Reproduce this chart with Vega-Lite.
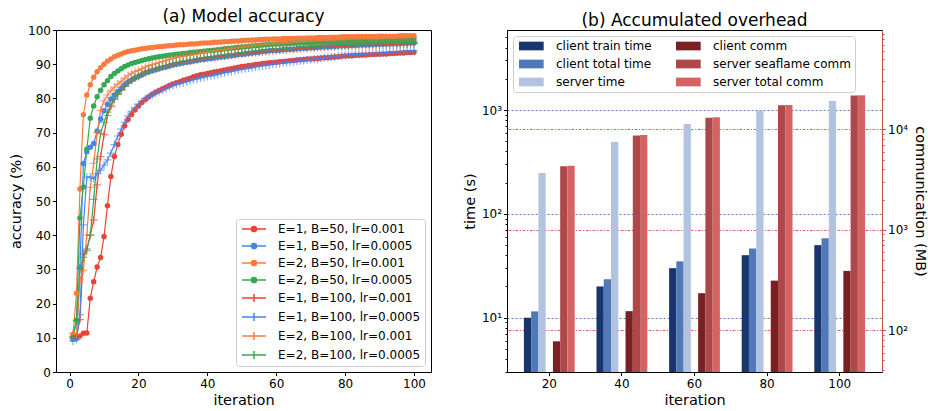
{
  "$schema": "https://vega.github.io/schema/vega-lite/v6.json",
  "padding": {"left": 8, "top": 7, "right": 0, "bottom": 0},
  "background": "white",
  "config": {
    "font": "DejaVu Sans",
    "view": {"stroke": "#000", "strokeWidth": 1},
    "axis": {"labelFontSize": 12, "labelColor": "#000", "labelFont": "DejaVu Sans", "titleFont": "DejaVu Sans", "titleFontSize": 14.5, "titleFontWeight": "normal", "titleColor": "#000", "domainColor": "#000", "tickColor": "#000", "tickSize": 3.5, "grid": false},
    "title": {"fontSize": 17, "fontWeight": "normal", "font": "DejaVu Sans", "color": "#000"},
    "legend": {"labelFontSize": 12, "labelFont": "DejaVu Sans", "labelColor": "#000"}
  },
  "datasets": {
    "names": [
      {"key": "a", "name": "E=1, B=50, lr=0.001"},
      {"key": "b", "name": "E=1, B=50, lr=0.0005"},
      {"key": "c", "name": "E=2, B=50, lr=0.001"},
      {"key": "d", "name": "E=2, B=50, lr=0.0005"},
      {"key": "e", "name": "E=1, B=100, lr=0.001"},
      {"key": "f", "name": "E=1, B=100, lr=0.0005"},
      {"key": "g", "name": "E=2, B=100, lr=0.001"},
      {"key": "h", "name": "E=2, B=100, lr=0.0005"}
    ],
    "acc": [
      {"i":1,"a":10.2,"b":9.6,"c":11.0,"d":10.2,"e":10.0,"f":9.0,"g":11.3,"h":10.3},
      {"i":2,"a":10.3,"b":9.8,"c":23.0,"d":15.1,"e":10.5,"f":9.5,"g":11.0,"h":15.0},
      {"i":3,"a":10.5,"b":30.5,"c":53.5,"d":45.0,"e":15.3,"f":16.8,"g":27.0,"h":30.3},
      {"i":4,"a":11.3,"b":61.0,"c":75.2,"d":54.1,"e":34.5,"f":43.0,"g":29.7,"h":33.5},
      {"i":5,"a":11.4,"b":64.4,"c":81.0,"d":65.1,"e":36.0,"f":57.0,"g":40.0,"h":35.5},
      {"i":6,"a":21.6,"b":65.7,"c":84.0,"d":74.2,"e":40.0,"f":57.0,"g":54.0,"h":40.0},
      {"i":7,"a":26.4,"b":66.8,"c":86.2,"d":77.8,"e":44.4,"f":56.5,"g":61.0,"h":50.5},
      {"i":8,"a":30.7,"b":70.5,"c":87.8,"d":80.5,"e":54.7,"f":58.0,"g":70.0,"h":62.3},
      {"i":9,"a":33.5,"b":74.0,"c":89.0,"d":82.4,"e":63.0,"f":59.0,"g":76.5,"h":69.8},
      {"i":10,"a":39.6,"b":76.4,"c":90.0,"d":84.0,"e":69.4,"f":60.5,"g":79.3,"h":73.0},
      {"i":11,"a":48.6,"b":78.3,"c":90.9,"d":85.2,"e":75.0,"f":62.0,"g":81.0,"h":76.0},
      {"i":12,"a":57.2,"b":79.8,"c":91.5,"d":86.4,"e":77.6,"f":64.0,"g":82.3,"h":78.0},
      {"i":13,"a":63.0,"b":81.0,"c":92.2,"d":87.3,"e":79.7,"f":66.5,"g":83.3,"h":79.8},
      {"i":14,"a":66.5,"b":82.0,"c":92.6,"d":88.0,"e":81.2,"f":69.0,"g":84.2,"h":81.2},
      {"i":15,"a":69.5,"b":83.0,"c":93.0,"d":88.7,"e":82.5,"f":71.0,"g":85.0,"h":82.4},
      {"i":16,"a":72.0,"b":84.0,"c":93.4,"d":89.3,"e":83.6,"f":73.0,"g":85.9,"h":83.5},
      {"i":17,"a":73.8,"b":84.8,"c":93.7,"d":89.8,"e":84.6,"f":74.8,"g":86.7,"h":84.5},
      {"i":18,"a":75.3,"b":85.4,"c":93.9,"d":90.2,"e":85.4,"f":76.2,"g":87.3,"h":85.4},
      {"i":19,"a":76.6,"b":86.0,"c":94.1,"d":90.5,"e":86.0,"f":77.3,"g":87.8,"h":86.0},
      {"i":20,"a":77.8,"b":86.4,"c":94.3,"d":90.8,"e":86.5,"f":78.3,"g":88.2,"h":86.5},
      {"i":21,"a":78.8,"b":86.9,"c":94.5,"d":91.1,"e":87.1,"f":79.1,"g":88.7,"h":87.1},
      {"i":22,"a":79.7,"b":87.4,"c":94.6,"d":91.4,"e":87.5,"f":79.9,"g":89.2,"h":87.6},
      {"i":23,"a":80.5,"b":87.8,"c":94.8,"d":91.6,"e":88.0,"f":80.5,"g":89.6,"h":88.0},
      {"i":24,"a":81.2,"b":88.1,"c":94.9,"d":91.8,"e":88.4,"f":81.1,"g":89.9,"h":88.5},
      {"i":25,"a":81.8,"b":88.4,"c":95.0,"d":92.0,"e":88.7,"f":81.6,"g":90.2,"h":88.8},
      {"i":26,"a":82.3,"b":88.7,"c":95.1,"d":92.2,"e":89.0,"f":82.0,"g":90.5,"h":89.1},
      {"i":27,"a":82.8,"b":89.0,"c":95.2,"d":92.3,"e":89.2,"f":82.5,"g":90.8,"h":89.4},
      {"i":28,"a":83.3,"b":89.2,"c":95.3,"d":92.5,"e":89.5,"f":82.9,"g":91.1,"h":89.6},
      {"i":29,"a":83.8,"b":89.5,"c":95.4,"d":92.6,"e":89.7,"f":83.4,"g":91.4,"h":89.9},
      {"i":30,"a":84.2,"b":89.8,"c":95.5,"d":92.8,"e":90.0,"f":83.8,"g":91.7,"h":90.2},
      {"i":31,"a":84.6,"b":90.0,"c":95.6,"d":92.9,"e":90.2,"f":84.1,"g":91.9,"h":90.4},
      {"i":32,"a":84.9,"b":90.2,"c":95.7,"d":93.0,"e":90.4,"f":84.4,"g":92.1,"h":90.6},
      {"i":33,"a":85.3,"b":90.4,"c":95.7,"d":93.1,"e":90.6,"f":84.6,"g":92.3,"h":90.8},
      {"i":34,"a":85.6,"b":90.6,"c":95.8,"d":93.2,"e":90.8,"f":84.9,"g":92.5,"h":91.0},
      {"i":35,"a":85.9,"b":90.7,"c":95.9,"d":93.4,"e":90.9,"f":85.2,"g":92.6,"h":91.2},
      {"i":36,"a":86.3,"b":90.9,"c":95.9,"d":93.5,"e":91.1,"f":85.5,"g":92.8,"h":91.4},
      {"i":37,"a":86.6,"b":91.1,"c":96.0,"d":93.6,"e":91.3,"f":85.7,"g":93.0,"h":91.6},
      {"i":38,"a":86.9,"b":91.3,"c":96.1,"d":93.7,"e":91.5,"f":86.0,"g":93.2,"h":91.8},
      {"i":39,"a":87.1,"b":91.4,"c":96.2,"d":93.8,"e":91.6,"f":86.2,"g":93.4,"h":91.9},
      {"i":40,"a":87.3,"b":91.6,"c":96.2,"d":93.9,"e":91.8,"f":86.4,"g":93.5,"h":92.1},
      {"i":41,"a":87.5,"b":91.7,"c":96.3,"d":94.0,"e":91.9,"f":86.6,"g":93.7,"h":92.2},
      {"i":42,"a":87.7,"b":91.8,"c":96.4,"d":94.1,"e":92.0,"f":86.8,"g":93.8,"h":92.3},
      {"i":43,"a":87.9,"b":92.0,"c":96.4,"d":94.2,"e":92.1,"f":87.0,"g":94.0,"h":92.5},
      {"i":44,"a":88.1,"b":92.1,"c":96.5,"d":94.3,"e":92.3,"f":87.3,"g":94.1,"h":92.6},
      {"i":45,"a":88.3,"b":92.2,"c":96.6,"d":94.5,"e":92.4,"f":87.5,"g":94.3,"h":92.7},
      {"i":46,"a":88.5,"b":92.4,"c":96.6,"d":94.6,"e":92.5,"f":87.7,"g":94.4,"h":92.9},
      {"i":47,"a":88.7,"b":92.5,"c":96.7,"d":94.7,"e":92.6,"f":87.9,"g":94.6,"h":93.0},
      {"i":48,"a":88.9,"b":92.6,"c":96.8,"d":94.8,"e":92.8,"f":88.1,"g":94.7,"h":93.1},
      {"i":49,"a":89.1,"b":92.8,"c":96.8,"d":94.9,"e":92.9,"f":88.3,"g":94.9,"h":93.3},
      {"i":50,"a":89.3,"b":92.9,"c":96.9,"d":95.0,"e":93.0,"f":88.5,"g":95.0,"h":93.4},
      {"i":51,"a":89.4,"b":93.0,"c":97.0,"d":95.1,"e":93.1,"f":88.7,"g":95.1,"h":93.5},
      {"i":52,"a":89.6,"b":93.2,"c":97.0,"d":95.2,"e":93.2,"f":88.8,"g":95.3,"h":93.6},
      {"i":53,"a":89.7,"b":93.3,"c":97.1,"d":95.3,"e":93.3,"f":89.0,"g":95.4,"h":93.7},
      {"i":54,"a":89.9,"b":93.4,"c":97.1,"d":95.4,"e":93.4,"f":89.2,"g":95.5,"h":93.9},
      {"i":55,"a":90.0,"b":93.5,"c":97.2,"d":95.5,"e":93.5,"f":89.4,"g":95.6,"h":94.0},
      {"i":56,"a":90.2,"b":93.7,"c":97.2,"d":95.6,"e":93.6,"f":89.5,"g":95.8,"h":94.1},
      {"i":57,"a":90.3,"b":93.8,"c":97.3,"d":95.7,"e":93.7,"f":89.7,"g":95.9,"h":94.2},
      {"i":58,"a":90.4,"b":93.9,"c":97.3,"d":95.8,"e":93.8,"f":89.8,"g":96.0,"h":94.3},
      {"i":59,"a":90.5,"b":94.0,"c":97.4,"d":95.8,"e":93.9,"f":90.0,"g":96.0,"h":94.4},
      {"i":60,"a":90.6,"b":94.0,"c":97.4,"d":95.9,"e":94.0,"f":90.1,"g":96.1,"h":94.4},
      {"i":61,"a":90.7,"b":94.1,"c":97.4,"d":95.9,"e":94.1,"f":90.2,"g":96.2,"h":94.5},
      {"i":62,"a":90.8,"b":94.2,"c":97.5,"d":96.0,"e":94.2,"f":90.4,"g":96.3,"h":94.6},
      {"i":63,"a":90.9,"b":94.3,"c":97.5,"d":96.0,"e":94.2,"f":90.5,"g":96.3,"h":94.7},
      {"i":64,"a":91.0,"b":94.4,"c":97.5,"d":96.1,"e":94.3,"f":90.6,"g":96.4,"h":94.8},
      {"i":65,"a":91.1,"b":94.4,"c":97.5,"d":96.1,"e":94.4,"f":90.7,"g":96.5,"h":94.8},
      {"i":66,"a":91.2,"b":94.5,"c":97.6,"d":96.2,"e":94.5,"f":90.9,"g":96.5,"h":94.9},
      {"i":67,"a":91.3,"b":94.6,"c":97.6,"d":96.2,"e":94.6,"f":91.0,"g":96.6,"h":95.0},
      {"i":68,"a":91.4,"b":94.7,"c":97.6,"d":96.2,"e":94.7,"f":91.1,"g":96.7,"h":95.1},
      {"i":69,"a":91.5,"b":94.7,"c":97.7,"d":96.3,"e":94.7,"f":91.2,"g":96.7,"h":95.1},
      {"i":70,"a":91.5,"b":94.8,"c":97.7,"d":96.3,"e":94.8,"f":91.4,"g":96.8,"h":95.2},
      {"i":71,"a":91.6,"b":94.8,"c":97.7,"d":96.4,"e":94.8,"f":91.5,"g":96.8,"h":95.2},
      {"i":72,"a":91.7,"b":94.9,"c":97.8,"d":96.4,"e":94.9,"f":91.6,"g":96.9,"h":95.3},
      {"i":73,"a":91.8,"b":95.0,"c":97.8,"d":96.4,"e":94.9,"f":91.7,"g":96.9,"h":95.3},
      {"i":74,"a":91.9,"b":95.0,"c":97.8,"d":96.5,"e":95.0,"f":91.9,"g":97.0,"h":95.4},
      {"i":75,"a":91.9,"b":95.1,"c":97.8,"d":96.5,"e":95.0,"f":92.0,"g":97.0,"h":95.4},
      {"i":76,"a":92.0,"b":95.2,"c":97.9,"d":96.5,"e":95.1,"f":92.1,"g":97.1,"h":95.5},
      {"i":77,"a":92.1,"b":95.2,"c":97.9,"d":96.6,"e":95.1,"f":92.2,"g":97.1,"h":95.5},
      {"i":78,"a":92.2,"b":95.3,"c":97.9,"d":96.6,"e":95.2,"f":92.4,"g":97.2,"h":95.6},
      {"i":79,"a":92.3,"b":95.3,"c":98.0,"d":96.7,"e":95.2,"f":92.5,"g":97.2,"h":95.6},
      {"i":80,"a":92.4,"b":95.4,"c":98.0,"d":96.7,"e":95.3,"f":92.6,"g":97.3,"h":95.7},
      {"i":81,"a":92.5,"b":95.4,"c":98.0,"d":96.7,"e":95.3,"f":92.7,"g":97.3,"h":95.7},
      {"i":82,"a":92.5,"b":95.5,"c":98.0,"d":96.7,"e":95.4,"f":92.7,"g":97.4,"h":95.8},
      {"i":83,"a":92.6,"b":95.5,"c":98.0,"d":96.8,"e":95.4,"f":92.8,"g":97.4,"h":95.8},
      {"i":84,"a":92.6,"b":95.6,"c":98.1,"d":96.8,"e":95.4,"f":92.9,"g":97.4,"h":95.8},
      {"i":85,"a":92.7,"b":95.6,"c":98.1,"d":96.8,"e":95.5,"f":92.9,"g":97.4,"h":95.9},
      {"i":86,"a":92.7,"b":95.6,"c":98.1,"d":96.8,"e":95.5,"f":93.0,"g":97.5,"h":95.9},
      {"i":87,"a":92.8,"b":95.7,"c":98.1,"d":96.8,"e":95.5,"f":93.1,"g":97.5,"h":95.9},
      {"i":88,"a":92.8,"b":95.7,"c":98.1,"d":96.9,"e":95.6,"f":93.2,"g":97.5,"h":96.0},
      {"i":89,"a":92.9,"b":95.8,"c":98.1,"d":96.9,"e":95.6,"f":93.2,"g":97.5,"h":96.0},
      {"i":90,"a":92.9,"b":95.8,"c":98.2,"d":96.9,"e":95.6,"f":93.3,"g":97.5,"h":96.0},
      {"i":91,"a":93.0,"b":95.8,"c":98.2,"d":96.9,"e":95.7,"f":93.4,"g":97.6,"h":96.1},
      {"i":92,"a":93.0,"b":95.9,"c":98.2,"d":96.9,"e":95.7,"f":93.4,"g":97.6,"h":96.1},
      {"i":93,"a":93.1,"b":95.9,"c":98.2,"d":97.0,"e":95.7,"f":93.5,"g":97.6,"h":96.1},
      {"i":94,"a":93.1,"b":96.0,"c":98.2,"d":97.0,"e":95.8,"f":93.6,"g":97.6,"h":96.2},
      {"i":95,"a":93.2,"b":96.0,"c":98.2,"d":97.0,"e":95.8,"f":93.7,"g":97.7,"h":96.2},
      {"i":96,"a":93.3,"b":96.0,"c":98.3,"d":97.0,"e":95.8,"f":93.7,"g":97.7,"h":96.2},
      {"i":97,"a":93.3,"b":96.1,"c":98.3,"d":97.0,"e":95.9,"f":93.8,"g":97.7,"h":96.3},
      {"i":98,"a":93.4,"b":96.1,"c":98.3,"d":97.1,"e":95.9,"f":93.9,"g":97.7,"h":96.3},
      {"i":99,"a":93.4,"b":96.2,"c":98.3,"d":97.1,"e":96.0,"f":93.9,"g":97.8,"h":96.4},
      {"i":100,"a":93.5,"b":96.2,"c":98.3,"d":97.1,"e":96.0,"f":94.0,"g":97.8,"h":96.4}
    ],
    "time": [
      {"it": 20, "metric": "client train time", "v": 10},
      {"it": 20, "metric": "client total time", "v": 11.5},
      {"it": 20, "metric": "server time", "v": 247},
      {"it": 40, "metric": "client train time", "v": 20},
      {"it": 40, "metric": "client total time", "v": 23.4},
      {"it": 40, "metric": "server time", "v": 491},
      {"it": 60, "metric": "client train time", "v": 30},
      {"it": 60, "metric": "client total time", "v": 34.9},
      {"it": 60, "metric": "server time", "v": 733},
      {"it": 80, "metric": "client train time", "v": 40},
      {"it": 80, "metric": "client total time", "v": 46.5},
      {"it": 80, "metric": "server time", "v": 985},
      {"it": 100, "metric": "client train time", "v": 50},
      {"it": 100, "metric": "client total time", "v": 58.2},
      {"it": 100, "metric": "server time", "v": 1221}
    ],
    "comm": [
      {"it": 20, "metric": "client comm", "v": 77.6},
      {"it": 20, "metric": "server seaflame comm", "v": 4300},
      {"it": 20, "metric": "server total comm", "v": 4350},
      {"it": 40, "metric": "client comm", "v": 155},
      {"it": 40, "metric": "server seaflame comm", "v": 8700},
      {"it": 40, "metric": "server total comm", "v": 8780},
      {"it": 60, "metric": "client comm", "v": 234},
      {"it": 60, "metric": "server seaflame comm", "v": 13100},
      {"it": 60, "metric": "server total comm", "v": 13200},
      {"it": 80, "metric": "client comm", "v": 312},
      {"it": 80, "metric": "server seaflame comm", "v": 17400},
      {"it": 80, "metric": "server total comm", "v": 17550},
      {"it": 100, "metric": "client comm", "v": 390},
      {"it": 100, "metric": "server seaflame comm", "v": 21750},
      {"it": 100, "metric": "server total comm", "v": 21900}
    ]
  },
  "resolve": {"scale": {"color": "independent"}, "legend": {"color": "independent"}},
  "bounds": "flush",
  "spacing": 76,
  "hconcat": [
    {
      "width": 375,
      "height": 342,
      "title": {"text": "(a) Model accuracy", "offset": -2},
      "data": {"name": "acc"},
      "transform": [
        {"fold": ["a", "b", "c", "d", "e", "f", "g", "h"], "as": ["key", "acc"]},
        {"lookup": "key", "from": {"data": {"name": "names"}, "key": "key", "fields": ["name"]}}
      ],
      "encoding": {
        "x": {"field": "i", "type": "quantitative", "scale": {"domain": [-3.95, 104.95], "nice": false, "zero": false}, "axis": {"title": "iteration", "values": [0, 20, 40, 60, 80, 100], "labelPadding": 3, "titlePadding": 4}},
        "y": {"field": "acc", "type": "quantitative", "scale": {"domain": [0, 100], "nice": false}, "axis": {"title": "accuracy (%)", "values": [0, 10, 20, 30, 40, 50, 60, 70, 80, 90, 100], "labelPadding": 2, "titlePadding": 4}},
        "color": {
          "field": "name", "type": "nominal",
          "scale": {"domain": ["E=1, B=50, lr=0.001", "E=1, B=50, lr=0.0005", "E=2, B=50, lr=0.001", "E=2, B=50, lr=0.0005", "E=1, B=100, lr=0.001", "E=1, B=100, lr=0.0005", "E=2, B=100, lr=0.001", "E=2, B=100, lr=0.0005"],
                    "range": ["#EA4335", "#4285F4", "#FA7B3F", "#34A853", "#EA4335", "#4285F4", "#FA7B3F", "#34A853"]},
          "legend": {
            "title": null, "orient": "bottom-right", "offset": 6, "padding": 4, "rowPadding": 5,
            "symbolSize": 64, "symbolStrokeWidth": 1.5, "labelOffset": 26,
            "strokeColor": "#cccccc", "fillColor": "rgba(255,255,255,0.85)", "cornerRadius": 3,
            "encode": {"symbols": {"update": {
              "shape": {"signal": "indexof(datum.value,'B=50,')>=0 ? 'M-1,0H5M2.65,0A0.65,0.65,0,1,1,1.35,0A0.65,0.65,0,1,1,2.65,0Z' : 'M-1,0H5M2,-1V1'"},
              "fill": {"signal": "indexof(datum.value,'E=1')==0 ? (indexof(datum.value,'0.0005')>=0 ? '#4285F4' : '#EA4335') : (indexof(datum.value,'0.0005')>=0 ? '#34A853' : '#FA7B3F')"},
              "stroke": {"signal": "indexof(datum.value,'E=1')==0 ? (indexof(datum.value,'0.0005')>=0 ? '#4285F4' : '#EA4335') : (indexof(datum.value,'0.0005')>=0 ? '#34A853' : '#FA7B3F')"},
              "strokeWidth": {"value": 1.5},
              "opacity": {"value": 1}
            }}}
          }
        }
      },
      "layer": [
        {"mark": {"type": "line", "strokeWidth": 1.2, "clip": true}},
        {"transform": [{"filter": "indexof(['a','b','c','d'], datum.key) >= 0"}],
         "mark": {"type": "point", "shape": "circle", "filled": true, "size": 30, "opacity": 1, "clip": true}},
        {"transform": [{"filter": "indexof(['e','f','g','h'], datum.key) >= 0"}],
         "mark": {"type": "point", "shape": "M-1.6,0H1.6M0,-1.6V1.6", "filled": false, "size": 25, "strokeWidth": 1.2, "opacity": 0.65, "clip": true}}
      ]
    },
    {
      "width": 375,
      "height": 342,
      "title": {"text": "(b) Accumulated overhead", "offset": -2},
      "encoding": {
        "x": {"field": "it", "type": "ordinal", "scale": {"paddingInner": 0.3, "paddingOuter": 0.2325}, "axis": {"title": "iteration", "labelAngle": 0, "labelPadding": 3, "titlePadding": 4}},
        "xOffset": {"field": "metric", "type": "nominal", "scale": {"domain": ["client train time", "client total time", "server time", "gap", "client comm", "server seaflame comm", "server total comm"], "paddingInner": 0, "paddingOuter": 0}},
        "color": {
          "field": "metric", "type": "nominal",
          "scale": {"domain": ["client train time", "client total time", "server time", "client comm", "server seaflame comm", "server total comm"],
                    "range": ["#17356E", "#5079BA", "#B1C3DF", "#7A2023", "#AD4749", "#D46464"]},
          "legend": {
            "title": null, "orient": "top-left", "offset": 6, "columns": 2, "padding": 4, "rowPadding": 6, "columnPadding": 22,
            "symbolType": "M-1,-1.09H5.17V1.09H-1Z", "symbolSize": 64, "symbolStrokeWidth": 0, "labelOffset": 27,
            "strokeColor": "#cccccc", "fillColor": "rgba(255,255,255,0.85)", "cornerRadius": 3
          }
        }
      },
      "layer": [
        {
          "data": {"name": "time"},
          "mark": {"type": "bar"},
          "encoding": {
            "y": {"field": "v", "type": "quantitative", "stack": null, "scale": {"type": "log", "domain": [3, 5900], "nice": false},
                  "axis": {"title": "time (s)", "orient": "left", "labelPadding": 2, "titlePadding": 4, "labelOverlap": false,
                           "labelExpr": "datum.value==10?'10¹':datum.value==100?'10²':datum.value==1000?'10³':''",
                           "tickSize": {"condition": {"test": "abs(log(datum.value)/LN10 - round(log(datum.value)/LN10)) < 0.001", "value": 3.5}, "value": 2},
                           "grid": true, "gridColor": "#4a6db3", "gridDash": [2, 2], "gridWidth": 0.9,
                           "gridOpacity": {"condition": {"test": "abs(log(datum.value)/LN10 - round(log(datum.value)/LN10)) < 0.001", "value": 1}, "value": 0}}}
          }
        },
        {
          "data": {"name": "comm"},
          "mark": {"type": "bar"},
          "encoding": {
            "y": {"field": "v", "type": "quantitative", "stack": null, "scale": {"type": "log", "domain": [38.4, 97700], "nice": false},
                  "axis": {"title": "communication (MB)", "orient": "right", "labelPadding": 2, "titlePadding": 5, "labelOverlap": false,
                           "domainColor": "#c0504d", "tickColor": "#c0504d",
                           "labelExpr": "datum.value==100?'10²':datum.value==1000?'10³':datum.value==10000?'10⁴':''",
                           "tickSize": {"condition": {"test": "abs(log(datum.value)/LN10 - round(log(datum.value)/LN10)) < 0.001", "value": 3.5}, "value": 2},
                           "grid": true, "gridColor": "#e05252", "gridDash": [3, 1.5, 1, 1.5], "gridWidth": 0.9,
                           "gridOpacity": {"condition": {"test": "abs(log(datum.value)/LN10 - round(log(datum.value)/LN10)) < 0.001", "value": 1}, "value": 0}}}
          }
        }
      ],
      "resolve": {"scale": {"y": "independent"}}
    }
  ]
}
